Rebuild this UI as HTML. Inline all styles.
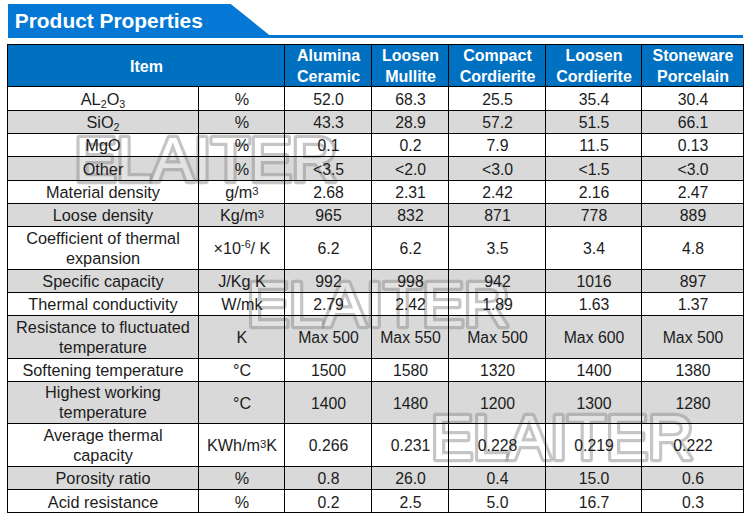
<!DOCTYPE html>
<html><head><meta charset="utf-8"><title>Product Properties</title>
<style>
html,body{margin:0;padding:0;background:#fff;}
body{width:750px;height:523px;position:relative;overflow:hidden;font-family:"Liberation Sans",Arial,sans-serif;color:#1c1c1c;}
.banner{position:absolute;left:0;top:0;width:750px;height:44px;}
.title{position:absolute;left:14.8px;top:9.2px;font-size:20.9px;font-weight:bold;color:#fff;line-height:23px;white-space:nowrap;}
.c{position:absolute;text-align:center;font-size:16.3px;white-space:nowrap;}
.u{font-size:16.2px;}
.n{font-size:15.8px;}
.h{color:#fff;font-weight:bold;font-size:16px;}
.g{position:absolute;background:#d9d9d9;}
.b{position:absolute;background:#0070c0;}
.l{position:absolute;background:#000;}
sub{font-size:66%;vertical-align:baseline;position:relative;top:0.25em;line-height:0;}
sup{font-size:70%;vertical-align:baseline;position:relative;top:-0.30em;line-height:0;}
sup.hi{font-size:66%;top:-0.56em;}
</style></head><body>
<svg class="banner" viewBox="0 0 750 44"><polygon points="8,4 230.7,4 269.3,35 743,35 743,38 8,38" fill="#0478d4"/></svg>
<div class="title">Product Properties</div>
<div class="b" style="left:7px;top:44px;width:736px;height:42px"></div>
<div class="g" style="left:7px;top:110px;width:736px;height:23px"></div>
<div class="g" style="left:7px;top:156px;width:736px;height:24px"></div>
<div class="g" style="left:7px;top:203px;width:736px;height:23px"></div>
<div class="g" style="left:7px;top:269px;width:736px;height:23px"></div>
<div class="g" style="left:7px;top:315px;width:736px;height:43px"></div>
<div class="g" style="left:7px;top:381px;width:736px;height:42px"></div>
<div class="g" style="left:7px;top:466px;width:736px;height:23px"></div>
<svg style="position:absolute;left:0;top:0" width="750" height="523" viewBox="0 0 750 523" font-family="Liberation Sans, Arial, sans-serif" font-size="63.0"><mask id="wmk" maskUnits="userSpaceOnUse" x="0" y="0" width="750" height="523"><rect x="0" y="0" width="750" height="523" fill="#fff"/><g fill="#000"><text x="74.6" y="181.15">ELAITER</text><text x="246.9" y="325.85">ELAITER</text><text x="431.0" y="458.85">ELAITER</text></g></mask>
<g mask="url(#wmk)" fill="none" stroke="rgba(150,150,150,0.55)" stroke-width="6.4" stroke-linejoin="round"><text x="74.6" y="181.15">ELAITER</text><text x="246.9" y="325.85">ELAITER</text><text x="431.0" y="458.85">ELAITER</text></g>
<g fill="rgba(255,255,255,0.26)"><text x="74.6" y="181.15">ELAITER</text><text x="246.9" y="325.85">ELAITER</text><text x="431.0" y="458.85">ELAITER</text></g>
</svg>
<div class="c h" style="left:8.5px;top:56.25px;width:276px;height:21px;line-height:21px"><span>Item</span></div>
<div class="c h" style="left:285.5px;top:45.25px;width:86px;height:42px;line-height:21px"><span>Alumina<br>Ceramic</span></div>
<div class="c h" style="left:372.5px;top:45.25px;width:76px;height:42px;line-height:21px"><span>Loosen<br>Mullite</span></div>
<div class="c h" style="left:449.5px;top:45.25px;width:96px;height:42px;line-height:21px"><span>Compact<br>Cordierite</span></div>
<div class="c h" style="left:546.5px;top:45.25px;width:95px;height:42px;line-height:21px"><span>Loosen<br>Cordierite</span></div>
<div class="c h" style="left:642.5px;top:45.25px;width:101px;height:42px;line-height:21px"><span>Stoneware<br>Porcelain</span></div>
<div class="c " style="left:8.0px;top:89.25px;width:190px;height:20px;line-height:20px"><span>AL<sub>2</sub>O<sub>3</sub></span></div>
<div class="c u" style="left:199.5px;top:89.25px;width:85px;height:20px;line-height:20px"><span>%</span></div>
<div class="c n" style="left:285.5px;top:89.75px;width:86px;height:20px;line-height:20px"><span>52.0</span></div>
<div class="c n" style="left:372.5px;top:89.75px;width:76px;height:20px;line-height:20px"><span>68.3</span></div>
<div class="c n" style="left:449.5px;top:89.75px;width:96px;height:20px;line-height:20px"><span>25.5</span></div>
<div class="c n" style="left:546.5px;top:89.75px;width:95px;height:20px;line-height:20px"><span>35.4</span></div>
<div class="c n" style="left:642.5px;top:89.75px;width:101px;height:20px;line-height:20px"><span>30.4</span></div>
<div class="c " style="left:8.0px;top:112.25px;width:190px;height:20px;line-height:20px"><span>SiO<sub>2</sub></span></div>
<div class="c u" style="left:199.5px;top:112.25px;width:85px;height:20px;line-height:20px"><span>%</span></div>
<div class="c n" style="left:285.5px;top:112.75px;width:86px;height:20px;line-height:20px"><span>43.3</span></div>
<div class="c n" style="left:372.5px;top:112.75px;width:76px;height:20px;line-height:20px"><span>28.9</span></div>
<div class="c n" style="left:449.5px;top:112.75px;width:96px;height:20px;line-height:20px"><span>57.2</span></div>
<div class="c n" style="left:546.5px;top:112.75px;width:95px;height:20px;line-height:20px"><span>51.5</span></div>
<div class="c n" style="left:642.5px;top:112.75px;width:101px;height:20px;line-height:20px"><span>66.1</span></div>
<div class="c " style="left:8.0px;top:135.25px;width:190px;height:20px;line-height:20px"><span>MgO</span></div>
<div class="c u" style="left:199.5px;top:135.25px;width:85px;height:20px;line-height:20px"><span>%</span></div>
<div class="c n" style="left:285.5px;top:135.75px;width:86px;height:20px;line-height:20px"><span>0.1</span></div>
<div class="c n" style="left:372.5px;top:135.75px;width:76px;height:20px;line-height:20px"><span>0.2</span></div>
<div class="c n" style="left:449.5px;top:135.75px;width:96px;height:20px;line-height:20px"><span>7.9</span></div>
<div class="c n" style="left:546.5px;top:135.75px;width:95px;height:20px;line-height:20px"><span>11.5</span></div>
<div class="c n" style="left:642.5px;top:135.75px;width:101px;height:20px;line-height:20px"><span>0.13</span></div>
<div class="c " style="left:8.0px;top:159.25px;width:190px;height:20px;line-height:20px"><span>Other</span></div>
<div class="c u" style="left:199.5px;top:159.25px;width:85px;height:20px;line-height:20px"><span>%</span></div>
<div class="c n" style="left:285.5px;top:159.75px;width:86px;height:20px;line-height:20px"><span>&lt;3.5</span></div>
<div class="c n" style="left:372.5px;top:159.75px;width:76px;height:20px;line-height:20px"><span>&lt;2.0</span></div>
<div class="c n" style="left:449.5px;top:159.75px;width:96px;height:20px;line-height:20px"><span>&lt;3.0</span></div>
<div class="c n" style="left:546.5px;top:159.75px;width:95px;height:20px;line-height:20px"><span>&lt;1.5</span></div>
<div class="c n" style="left:642.5px;top:159.75px;width:101px;height:20px;line-height:20px"><span>&lt;3.0</span></div>
<div class="c " style="left:8.0px;top:182.25px;width:190px;height:20px;line-height:20px"><span>Material density</span></div>
<div class="c u" style="left:199.5px;top:182.25px;width:85px;height:20px;line-height:20px"><span>g/m<sup>3</sup></span></div>
<div class="c n" style="left:285.5px;top:182.75px;width:86px;height:20px;line-height:20px"><span>2.68</span></div>
<div class="c n" style="left:372.5px;top:182.75px;width:76px;height:20px;line-height:20px"><span>2.31</span></div>
<div class="c n" style="left:449.5px;top:182.75px;width:96px;height:20px;line-height:20px"><span>2.42</span></div>
<div class="c n" style="left:546.5px;top:182.75px;width:95px;height:20px;line-height:20px"><span>2.16</span></div>
<div class="c n" style="left:642.5px;top:182.75px;width:101px;height:20px;line-height:20px"><span>2.47</span></div>
<div class="c " style="left:8.0px;top:205.25px;width:190px;height:20px;line-height:20px"><span>Loose density</span></div>
<div class="c u" style="left:199.5px;top:205.25px;width:85px;height:20px;line-height:20px"><span>Kg/m<sup>3</sup></span></div>
<div class="c n" style="left:285.5px;top:205.75px;width:86px;height:20px;line-height:20px"><span>965</span></div>
<div class="c n" style="left:372.5px;top:205.75px;width:76px;height:20px;line-height:20px"><span>832</span></div>
<div class="c n" style="left:449.5px;top:205.75px;width:96px;height:20px;line-height:20px"><span>871</span></div>
<div class="c n" style="left:546.5px;top:205.75px;width:95px;height:20px;line-height:20px"><span>778</span></div>
<div class="c n" style="left:642.5px;top:205.75px;width:101px;height:20px;line-height:20px"><span>889</span></div>
<div class="c " style="left:8.0px;top:228.25px;width:190px;height:40px;line-height:20px"><span>Coefficient of thermal<br>expansion</span></div>
<div class="c u" style="left:199.5px;top:238.25px;width:85px;height:20px;line-height:20px"><span>×10<sup class="hi">-6</sup>/ K</span></div>
<div class="c n" style="left:285.5px;top:238.75px;width:86px;height:20px;line-height:20px"><span>6.2</span></div>
<div class="c n" style="left:372.5px;top:238.75px;width:76px;height:20px;line-height:20px"><span>6.2</span></div>
<div class="c n" style="left:449.5px;top:238.75px;width:96px;height:20px;line-height:20px"><span>3.5</span></div>
<div class="c n" style="left:546.5px;top:238.75px;width:95px;height:20px;line-height:20px"><span>3.4</span></div>
<div class="c n" style="left:642.5px;top:238.75px;width:101px;height:20px;line-height:20px"><span>4.8</span></div>
<div class="c " style="left:8.0px;top:271.25px;width:190px;height:20px;line-height:20px"><span>Specific capacity</span></div>
<div class="c u" style="left:199.5px;top:271.25px;width:85px;height:20px;line-height:20px"><span>J/Kg K</span></div>
<div class="c n" style="left:285.5px;top:271.75px;width:86px;height:20px;line-height:20px"><span>992</span></div>
<div class="c n" style="left:372.5px;top:271.75px;width:76px;height:20px;line-height:20px"><span>998</span></div>
<div class="c n" style="left:449.5px;top:271.75px;width:96px;height:20px;line-height:20px"><span>942</span></div>
<div class="c n" style="left:546.5px;top:271.75px;width:95px;height:20px;line-height:20px"><span>1016</span></div>
<div class="c n" style="left:642.5px;top:271.75px;width:101px;height:20px;line-height:20px"><span>897</span></div>
<div class="c " style="left:8.0px;top:294.25px;width:190px;height:20px;line-height:20px"><span>Thermal conductivity</span></div>
<div class="c u" style="left:199.5px;top:294.25px;width:85px;height:20px;line-height:20px"><span>W/mk</span></div>
<div class="c n" style="left:285.5px;top:294.75px;width:86px;height:20px;line-height:20px"><span>2.79</span></div>
<div class="c n" style="left:372.5px;top:294.75px;width:76px;height:20px;line-height:20px"><span>2.42</span></div>
<div class="c n" style="left:449.5px;top:294.75px;width:96px;height:20px;line-height:20px"><span>1.89</span></div>
<div class="c n" style="left:546.5px;top:294.75px;width:95px;height:20px;line-height:20px"><span>1.63</span></div>
<div class="c n" style="left:642.5px;top:294.75px;width:101px;height:20px;line-height:20px"><span>1.37</span></div>
<div class="c " style="left:8.0px;top:317.25px;width:190px;height:40px;line-height:20px"><span>Resistance to fluctuated<br>temperature</span></div>
<div class="c u" style="left:199.5px;top:327.25px;width:85px;height:20px;line-height:20px"><span>K</span></div>
<div class="c n" style="left:285.5px;top:327.75px;width:86px;height:20px;line-height:20px"><span>Max 500</span></div>
<div class="c n" style="left:372.5px;top:327.75px;width:76px;height:20px;line-height:20px"><span>Max 550</span></div>
<div class="c n" style="left:449.5px;top:327.75px;width:96px;height:20px;line-height:20px"><span>Max 500</span></div>
<div class="c n" style="left:546.5px;top:327.75px;width:95px;height:20px;line-height:20px"><span>Max 600</span></div>
<div class="c n" style="left:642.5px;top:327.75px;width:101px;height:20px;line-height:20px"><span>Max 500</span></div>
<div class="c " style="left:8.0px;top:360.25px;width:190px;height:20px;line-height:20px"><span>Softening temperature</span></div>
<div class="c u" style="left:199.5px;top:360.25px;width:85px;height:20px;line-height:20px"><span>°C</span></div>
<div class="c n" style="left:285.5px;top:360.75px;width:86px;height:20px;line-height:20px"><span>1500</span></div>
<div class="c n" style="left:372.5px;top:360.75px;width:76px;height:20px;line-height:20px"><span>1580</span></div>
<div class="c n" style="left:449.5px;top:360.75px;width:96px;height:20px;line-height:20px"><span>1320</span></div>
<div class="c n" style="left:546.5px;top:360.75px;width:95px;height:20px;line-height:20px"><span>1400</span></div>
<div class="c n" style="left:642.5px;top:360.75px;width:101px;height:20px;line-height:20px"><span>1380</span></div>
<div class="c " style="left:8.0px;top:382.25px;width:190px;height:40px;line-height:20px"><span>Highest working<br>temperature</span></div>
<div class="c u" style="left:199.5px;top:393.25px;width:85px;height:20px;line-height:20px"><span>°C</span></div>
<div class="c n" style="left:285.5px;top:393.75px;width:86px;height:20px;line-height:20px"><span>1400</span></div>
<div class="c n" style="left:372.5px;top:393.75px;width:76px;height:20px;line-height:20px"><span>1480</span></div>
<div class="c n" style="left:449.5px;top:393.75px;width:96px;height:20px;line-height:20px"><span>1200</span></div>
<div class="c n" style="left:546.5px;top:393.75px;width:95px;height:20px;line-height:20px"><span>1300</span></div>
<div class="c n" style="left:642.5px;top:393.75px;width:101px;height:20px;line-height:20px"><span>1280</span></div>
<div class="c " style="left:8.0px;top:425.25px;width:190px;height:40px;line-height:20px"><span>Average thermal<br>capacity</span></div>
<div class="c u" style="left:199.5px;top:435.25px;width:85px;height:20px;line-height:20px"><span>KWh/m<sup>3</sup>K</span></div>
<div class="c n" style="left:285.5px;top:435.75px;width:86px;height:20px;line-height:20px"><span>0.266</span></div>
<div class="c n" style="left:372.5px;top:435.75px;width:76px;height:20px;line-height:20px"><span>0.231</span></div>
<div class="c n" style="left:449.5px;top:435.75px;width:96px;height:20px;line-height:20px"><span>0.228</span></div>
<div class="c n" style="left:546.5px;top:435.75px;width:95px;height:20px;line-height:20px"><span>0.219</span></div>
<div class="c n" style="left:642.5px;top:435.75px;width:101px;height:20px;line-height:20px"><span>0.222</span></div>
<div class="c " style="left:8.0px;top:468.25px;width:190px;height:20px;line-height:20px"><span>Porosity ratio</span></div>
<div class="c u" style="left:199.5px;top:468.25px;width:85px;height:20px;line-height:20px"><span>%</span></div>
<div class="c n" style="left:285.5px;top:468.75px;width:86px;height:20px;line-height:20px"><span>0.8</span></div>
<div class="c n" style="left:372.5px;top:468.75px;width:76px;height:20px;line-height:20px"><span>26.0</span></div>
<div class="c n" style="left:449.5px;top:468.75px;width:96px;height:20px;line-height:20px"><span>0.4</span></div>
<div class="c n" style="left:546.5px;top:468.75px;width:95px;height:20px;line-height:20px"><span>15.0</span></div>
<div class="c n" style="left:642.5px;top:468.75px;width:101px;height:20px;line-height:20px"><span>0.6</span></div>
<div class="c " style="left:8.0px;top:492.25px;width:190px;height:20px;line-height:20px"><span>Acid resistance</span></div>
<div class="c u" style="left:199.5px;top:492.25px;width:85px;height:20px;line-height:20px"><span>%</span></div>
<div class="c n" style="left:285.5px;top:492.75px;width:86px;height:20px;line-height:20px"><span>0.2</span></div>
<div class="c n" style="left:372.5px;top:492.75px;width:76px;height:20px;line-height:20px"><span>2.5</span></div>
<div class="c n" style="left:449.5px;top:492.75px;width:96px;height:20px;line-height:20px"><span>5.0</span></div>
<div class="c n" style="left:546.5px;top:492.75px;width:95px;height:20px;line-height:20px"><span>16.7</span></div>
<div class="c n" style="left:642.5px;top:492.75px;width:101px;height:20px;line-height:20px"><span>0.3</span></div>
<div class="l" style="left:7px;top:44px;width:737px;height:1px"></div>
<div class="l" style="left:7px;top:86px;width:737px;height:1px"></div>
<div class="l" style="left:7px;top:110px;width:737px;height:1px"></div>
<div class="l" style="left:7px;top:133px;width:737px;height:1px"></div>
<div class="l" style="left:7px;top:156px;width:737px;height:1px"></div>
<div class="l" style="left:7px;top:180px;width:737px;height:1px"></div>
<div class="l" style="left:7px;top:203px;width:737px;height:1px"></div>
<div class="l" style="left:7px;top:226px;width:737px;height:1px"></div>
<div class="l" style="left:7px;top:269px;width:737px;height:1px"></div>
<div class="l" style="left:7px;top:292px;width:737px;height:1px"></div>
<div class="l" style="left:7px;top:315px;width:737px;height:1px"></div>
<div class="l" style="left:7px;top:358px;width:737px;height:1px"></div>
<div class="l" style="left:7px;top:381px;width:737px;height:1px"></div>
<div class="l" style="left:7px;top:423px;width:737px;height:1px"></div>
<div class="l" style="left:7px;top:466px;width:737px;height:1px"></div>
<div class="l" style="left:7px;top:489px;width:737px;height:1px"></div>
<div class="l" style="left:7px;top:512px;width:737px;height:1px"></div>
<div class="l" style="left:7px;top:44px;width:1px;height:469px"></div>
<div class="l" style="left:198px;top:86px;width:1px;height:427px"></div>
<div class="l" style="left:284px;top:44px;width:1px;height:469px"></div>
<div class="l" style="left:371px;top:44px;width:1px;height:469px"></div>
<div class="l" style="left:448px;top:44px;width:1px;height:469px"></div>
<div class="l" style="left:545px;top:44px;width:1px;height:469px"></div>
<div class="l" style="left:641px;top:44px;width:1px;height:469px"></div>
<div class="l" style="left:743px;top:44px;width:1px;height:469px"></div>
</body></html>
